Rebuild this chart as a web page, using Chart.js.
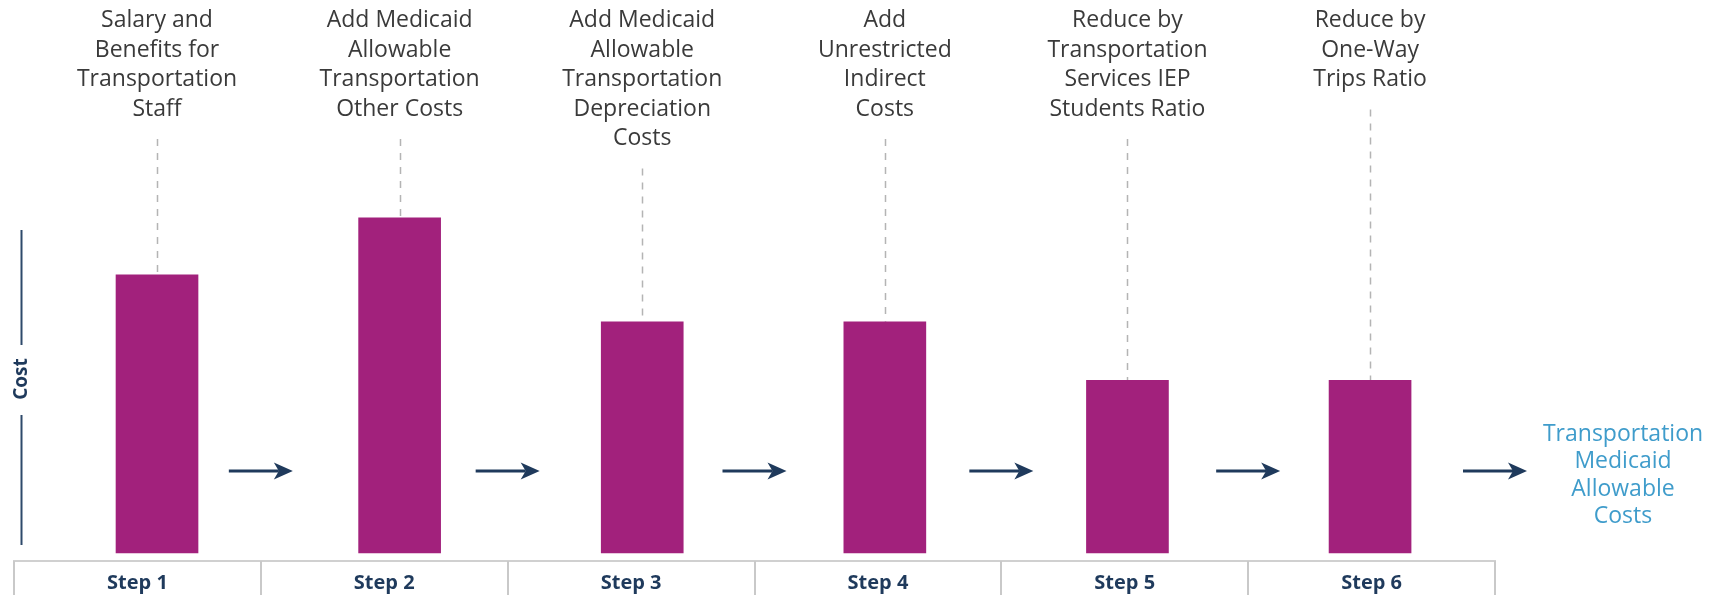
<!DOCTYPE html>
<html>
<head>
<meta charset="utf-8">
<title>Transportation Medicaid Allowable Costs</title>
<script src="https://cdn.jsdelivr.net/npm/chart.js@4.4.1/dist/chart.umd.min.js"></script>
<style>
  html, body { margin: 0; padding: 0; background: #ffffff; }
  #wrap { width: 1723px; height: 599px; }
</style>
</head>
<body>
<div id="wrap"><canvas id="chart" width="1723" height="599"></canvas></div>
<script>
// Step names along the bottom axis
const stepLabels = ['Step 1', 'Step 2', 'Step 3', 'Step 4', 'Step 5', 'Step 6'];

// Description of each step, shown above its bar
const stageLabels = [
  ['Salary and', 'Benefits for', 'Transportation', 'Staff'],
  ['Add Medicaid', 'Allowable', 'Transportation', 'Other Costs'],
  ['Add Medicaid', 'Allowable', 'Transportation', 'Depreciation', 'Costs'],
  ['Add', 'Unrestricted', 'Indirect', 'Costs'],
  ['Reduce by', 'Transportation', 'Services IEP', 'Students Ratio'],
  ['Reduce by', 'One-Way', 'Trips Ratio']
];

// Relative cost after each step (illustrative units)
const costValues = [83, 100, 69, 69, 51.5, 51.5];

// Final outcome text
const resultLabel = ['Transportation', 'Medicaid', 'Allowable', 'Costs'];

const axisTitle = 'Cost';

const LABEL_FONT = '"Open Sans", "Noto Sans", sans-serif';
const LINE_H = 29.5;
const NAVY = '#1f3a5c';
const BAR_MIN = -0.5895;
const BAR_MAX = 5.515;

// Dashed leader from each description down to the top of its bar
const leaderLines = {
  id: 'leaderLines',
  beforeDatasetsDraw(chart) {
    const xs = chart.scales.xb, ys = chart.scales.y, ctx = chart.ctx;
    ctx.save();
    ctx.strokeStyle = '#b4b4b4';
    ctx.lineWidth = 1.5;
    ctx.setLineDash([7, 7]);
    costValues.forEach((v, i) => {
      const x = Math.round(xs.getPixelForValue(i)) + 0.5;
      const yStart = xs.top + stageLabels[i].length * LINE_H + 15;
      const yEnd = ys.getPixelForValue(v);
      ctx.beginPath();
      ctx.moveTo(x, yStart);
      ctx.lineTo(x, yEnd);
      ctx.stroke();
    });
    ctx.restore();
  }
};

// Step dividers under the axis line, arrows between steps, result text and cost marker
const flowArrows = {
  id: 'flowArrows',
  afterDraw(chart) {
    const xs = chart.scales.x, area = chart.chartArea, ctx = chart.ctx;
    const slot = xs.getPixelForValue(1) - xs.getPixelForValue(0);
    ctx.save();

    // dividers between step labels
    ctx.strokeStyle = '#c9c9c9';
    ctx.lineWidth = 2;
    for (let k = 0; k <= stepLabels.length; k++) {
      const dx = Math.round(xs.getPixelForValue(0) - slot / 2 + k * slot);
      ctx.beginPath();
      ctx.moveTo(dx, area.bottom);
      ctx.lineTo(dx, area.bottom + 34);
      ctx.stroke();
    }

    // arrows
    const y = area.bottom - 90;
    ctx.fillStyle = NAVY;
    ctx.strokeStyle = NAVY;
    ctx.lineWidth = 3;
    stepLabels.forEach((s, i) => {
      const cx = xs.getPixelForValue(i) + slot / 2;
      const x0 = cx - 32, x1 = cx + 32;
      ctx.beginPath();
      ctx.moveTo(x0, y);
      ctx.lineTo(x1 - 14, y);
      ctx.stroke();
      ctx.beginPath();
      ctx.moveTo(x1, y);
      ctx.lineTo(x1 - 19, y - 8.5);
      ctx.lineTo(x1 - 14, y);
      ctx.lineTo(x1 - 19, y + 8.5);
      ctx.closePath();
      ctx.fill();
    });

    // result text to the right of the last arrow
    ctx.fillStyle = '#3f9ccb';
    ctx.font = '23px ' + LABEL_FONT;
    ctx.textAlign = 'center';
    ctx.textBaseline = 'middle';
    const tx = area.right + 128;
    resultLabel.forEach((line, k) => {
      ctx.fillText(line, tx, area.bottom - 127 + k * 27.5);
    });

    // vertical "Cost" axis marker
    const ax = area.left + 7.5;
    ctx.strokeStyle = '#2e4a6b';
    ctx.lineWidth = 2;
    ctx.beginPath();
    ctx.moveTo(ax, area.bottom - 331);
    ctx.lineTo(ax, area.bottom - 216);
    ctx.moveTo(ax, area.bottom - 146);
    ctx.lineTo(ax, area.bottom - 16);
    ctx.stroke();
    ctx.translate(ax, area.bottom - 182);
    ctx.rotate(-Math.PI / 2);
    ctx.fillStyle = NAVY;
    ctx.font = 'bold 19px ' + LABEL_FONT;
    ctx.fillText(axisTitle, 0, 0);
    ctx.restore();
  }
};

new Chart(document.getElementById('chart'), {
  type: 'bar',
  data: {
    labels: stepLabels,
    datasets: [{
      label: axisTitle,
      data: costValues.map((v, i) => ({ x: i, y: v })),
      xAxisID: 'xb',
      yAxisID: 'y',
      backgroundColor: '#a2217c',
      borderWidth: 0,
      barThickness: 82
    }]
  },
  options: {
    responsive: false,
    animation: false,
    devicePixelRatio: 1,
    layout: { padding: { top: 6, right: 228, bottom: -6, left: 14 } },
    plugins: {
      legend: { display: false },
      tooltip: { enabled: false }
    },
    scales: {
      xb: {
        type: 'linear',
        position: 'top',
        offset: false,
        min: BAR_MIN,
        max: BAR_MAX,
        grid: { display: false, drawTicks: false, offset: false },
        border: { display: false },
        afterBuildTicks(axis) {
          // empty end ticks keep the axis from reserving room for wide labels
          axis.ticks = [{ value: BAR_MIN }]
            .concat(stageLabels.map((_, i) => ({ value: i })))
            .concat([{ value: BAR_MAX }]);
        },
        ticks: {
          autoSkip: false,
          maxRotation: 0,
          padding: 0,
          crossAlign: 'far',
          color: '#3a3a3a',
          font: { family: LABEL_FONT, size: 23, lineHeight: LINE_H + 'px' },
          callback: (value) => Number.isInteger(value) ? stageLabels[value] : ''
        }
      },
      x: {
        type: 'category',
        position: 'bottom',
        offset: true,
        grid: { display: false, drawTicks: false },
        border: { display: true, color: '#d0d0d0', width: 2 },
        ticks: {
          padding: 10,
          maxRotation: 0,
          color: NAVY,
          font: { family: LABEL_FONT, size: 20, weight: 'bold' }
        }
      },
      y: {
        display: false,
        min: -2.39,
        max: 119.2
      }
    }
  },
  plugins: [leaderLines, flowArrows]
});
</script>
</body>
</html>
